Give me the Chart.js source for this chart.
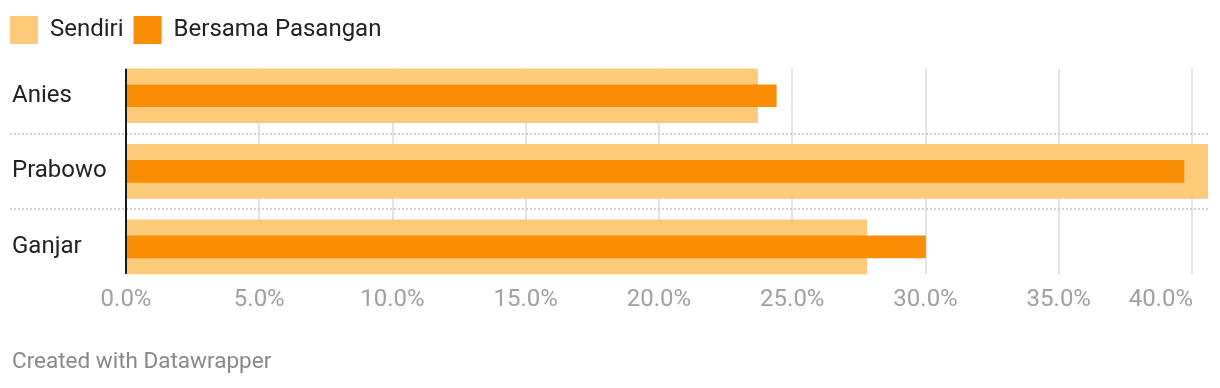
<!DOCTYPE html>
<html>
<head>
<meta charset="utf-8">
<script src="https://cdn.jsdelivr.net/npm/chart.js@4/dist/chart.umd.min.js"></script>
<style>
  html, body { margin: 0; padding: 0; background: #fff; }
  #wrap { width: 1220px; height: 388px; position: relative; }
</style>
</head>
<body>
<div id="wrap"><canvas id="c"></canvas></div>
<script>
const categories = ['Anies', 'Prabowo', 'Ganjar'];
const sendiri = [23.7, 40.6, 27.8];
const bersamaPasangan = [24.4, 39.7, 30.0];
const seriesNames = ['Sendiri', 'Bersama Pasangan'];
const xTickValues = [0, 5, 10, 15, 20, 25, 30, 35, 40];
const xMax = 40.6;

const FONT = 'Roboto, "Noto Sans", sans-serif';

const decorPlugin = {
  id: 'decor',
  afterLayout(chart) {
    // start legend flush with the left edge like the original
    if (chart.legend) {
      chart.legend.left -= 12;
      chart.legend.right -= 12;
      chart.legend.top -= 4;
      chart.legend.bottom -= 4;
    }
  },
  beforeDatasetsDraw(chart) {
    const ctx = chart.ctx;
    const x = chart.scales.x, y = chart.scales.y;
    const meta = chart.getDatasetMeta(0);
    const first = meta.data[0], last = meta.data[meta.data.length - 1];
    const top = first.y - first.height / 2;
    const bottom = last.y + last.height / 2;
    ctx.save();
    ctx.strokeStyle = '#e3e3e3';
    ctx.lineWidth = 2;
    xTickValues.forEach(v => {
      if (v === 0) return;
      const px = Math.round(x.getPixelForValue(v));
      ctx.beginPath();
      ctx.moveTo(px, top);
      ctx.lineTo(px, bottom);
      ctx.stroke();
    });
    ctx.strokeStyle = '#cfcfcf';
    ctx.lineWidth = 2;
    ctx.setLineDash([2, 2]);
    for (let i = 0; i < categories.length - 1; i++) {
      const py = Math.round((y.getPixelForValue(i) + y.getPixelForValue(i + 1)) / 2);
      ctx.beginPath();
      ctx.moveTo(10, py);
      ctx.lineTo(chart.chartArea.right, py);
      ctx.stroke();
    }
    ctx.restore();
  },
  afterDatasetsDraw(chart) {
    const ctx = chart.ctx;
    const x = chart.scales.x;
    const meta = chart.getDatasetMeta(0);
    const first = meta.data[0], last = meta.data[meta.data.length - 1];
    const top = first.y - first.height / 2;
    const bottom = last.y + last.height / 2;
    ctx.save();
    ctx.strokeStyle = '#1a1a1a';
    ctx.lineWidth = 2;
    const px = Math.round(x.getPixelForValue(0));
    ctx.beginPath();
    ctx.moveTo(px, top);
    ctx.lineTo(px, bottom);
    ctx.stroke();
    // last tick label, right-aligned to its gridline
    const items = x.getLabelItems();
    const ref = items[0];
    const lastV = xTickValues[xTickValues.length - 1];
    ctx.fillStyle = '#a0a0a0';
    ctx.font = '24px ' + FONT;
    ctx.textAlign = 'right';
    ctx.textBaseline = ref.options.textBaseline;
    ctx.fillText(lastV.toFixed(1) + '%', x.getPixelForValue(lastV) + 1, ref.options.translation[1] + ref.textOffset);
    ctx.restore();
  }
};

new Chart(document.getElementById('c'), {
  type: 'bar',
  data: {
    labels: categories,
    datasets: [
      {
        label: seriesNames[0],
        data: sendiri,
        backgroundColor: '#fdca79',
        barThickness: 54,
        grouped: false,
        order: 2
      },
      {
        label: seriesNames[1],
        data: bersamaPasangan,
        backgroundColor: '#f98d03',
        barThickness: 22,
        grouped: false,
        order: 1
      }
    ]
  },
  options: {
    indexAxis: 'y',
    responsive: true,
    maintainAspectRatio: false,
    animation: false,
    layout: { padding: { top: 10, left: 12, right: 12, bottom: 0 } },
    plugins: {
      legend: {
        position: 'top',
        align: 'start',
        labels: {
          boxWidth: 28,
          boxHeight: 28,
          padding: 10,
          color: '#222',
          font: { family: FONT, size: 24 },
          sort: (a, b) => a.datasetIndex - b.datasetIndex
        }
      },
      title: {
        display: true,
        text: 'Created with Datawrapper',
        position: 'bottom',
        align: 'start',
        color: '#888888',
        font: { family: FONT, size: 22.5, weight: 'normal' },
        padding: { top: 33, bottom: 12.5 }
      },
      tooltip: { enabled: false }
    },
    scales: {
      x: {
        min: 0,
        max: xMax,
        grid: { display: false, drawTicks: false },
        border: { display: false },
        afterBuildTicks: (scale) => { scale.ticks = xTickValues.map(v => ({ value: v })); },
        ticks: {
          color: '#a0a0a0',
          font: { family: FONT, size: 24 },
          padding: 1,
          maxRotation: 0,
          autoSkip: false,
          callback: (v) => v === xTickValues[xTickValues.length - 1] ? '' : v.toFixed(1) + '%'
        }
      },
      y: {
        grid: { display: false, drawTicks: false },
        border: { display: false },
        afterFit: (scale) => { scale.width = 114; },
        ticks: {
          color: '#222',
          crossAlign: 'far',
          font: { family: FONT, size: 24 },
          padding: 10
        }
      }
    }
  },
  plugins: [decorPlugin]
});
</script>
</body>
</html>
